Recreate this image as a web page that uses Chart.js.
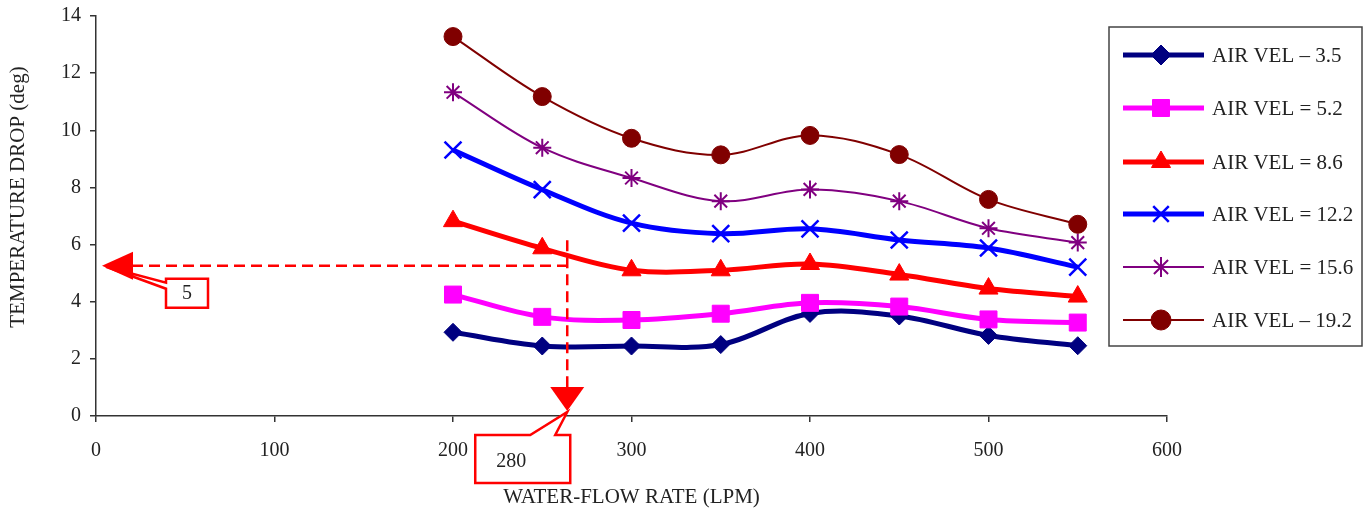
<!DOCTYPE html>
<html>
<head>
<meta charset="utf-8">
<script src="https://cdn.jsdelivr.net/npm/chart.js@4.4.1/dist/chart.umd.min.js"></script>
<style>
  html, body { margin: 0; padding: 0; background: #ffffff; }
  #wrap { width: 1364px; height: 510px; }
</style>
</head>
<body>
<div id="wrap"><canvas id="c" width="1364" height="510"></canvas></div>
<script>
// ---- data ----
const flowRates = [200, 250, 300, 350, 400, 450, 500, 550];
const seriesLabels = ['AIR VEL \u2013 3.5', 'AIR VEL = 5.2', 'AIR VEL = 8.6', 'AIR VEL = 12.2', 'AIR VEL = 15.6', 'AIR VEL \u2013 19.2'];
const drop35  = [2.93, 2.45, 2.45, 2.50, 3.59, 3.50, 2.82, 2.46];
const drop52  = [4.25, 3.47, 3.36, 3.58, 3.96, 3.83, 3.38, 3.27];
const drop86  = [6.82, 5.87, 5.10, 5.10, 5.32, 4.95, 4.46, 4.18];
const drop122 = [9.31, 7.92, 6.75, 6.38, 6.55, 6.16, 5.88, 5.21];
const drop156 = [11.33, 9.39, 8.33, 7.52, 7.93, 7.52, 6.57, 6.07];
const drop192 = [13.28, 11.18, 9.72, 9.14, 9.82, 9.15, 7.58, 6.71];
const xTicks = [0, 100, 200, 300, 400, 500, 600];
const yTicks = [0, 2, 4, 6, 8, 10, 12, 14];
const xTitle = 'WATER-FLOW RATE (LPM)';
const yTitle = 'TEMPERATURE DROP (deg)';
// reading guide (annotation)
const guideFlow = 264;
const guideDrop = 5.26;
const guideFlowLabel = '280';
const guideDropLabel = '5';

const allSeries = [drop35, drop52, drop86, drop122, drop156, drop192];
const styles = [
  { color: '#000080', width: 5, point: 'rectRot', r: 9, pbw: 1 },
  { color: '#FF00FF', width: 5, point: 'rect', r: 12, pbw: 1 },
  { color: '#FF0000', width: 5, point: 'triangle', r: 11, pbw: 1 },
  { color: '#0000FF', width: 5, point: 'crossRot', r: 12, pbw: 2.5 },
  { color: '#800080', width: 2, point: 'star', r: 9, pbw: 2 },
  { color: '#800000', width: 2, point: 'circle', r: 9, pbw: 1 }
];
const FONT = "'Liberation Serif', 'Times New Roman', serif";
const TXT = '#222222';

const datasets = allSeries.map((vals, i) => ({
  label: seriesLabels[i],
  data: flowRates.map((x, j) => ({ x: x, y: vals[j] })),
  borderColor: styles[i].color,
  backgroundColor: styles[i].color,
  borderWidth: styles[i].width,
  pointStyle: styles[i].point,
  pointRadius: styles[i].r,
  pointBorderWidth: styles[i].pbw,
  pointBackgroundColor: styles[i].color,
  pointBorderColor: styles[i].color,
  tension: 0.35,
  fill: false,
  order: allSeries.length - i
}));

const extras = {
  id: 'extras',
  afterDatasetsDraw(chart) {
    const ctx = chart.ctx;
    const xs = chart.scales.x, ys = chart.scales.y;
    const red = '#FF0000';
    const gx = xs.getPixelForValue(guideFlow);
    const gy = ys.getPixelForValue(guideDrop);
    const leftTip = xs.left + 6;
    const downTip = ys.bottom - 5;
    ctx.save();
    ctx.lineWidth = 2.5;
    ctx.strokeStyle = red;
    ctx.fillStyle = '#ffffff';
    ctx.lineJoin = 'miter';
    // "5" box with wedge to left arrow
    const b1x = leftTip + 64, b1y = gy + 13, b1w = 42, b1h = 29;
    ctx.beginPath();
    ctx.moveTo(b1x, b1y);
    ctx.lineTo(b1x + b1w, b1y);
    ctx.lineTo(b1x + b1w, b1y + b1h);
    ctx.lineTo(b1x, b1y + b1h);
    ctx.lineTo(b1x, b1y + 10);
    ctx.lineTo(leftTip + 4, gy + 1);
    ctx.lineTo(b1x, b1y + 4);
    ctx.closePath();
    ctx.fill();
    ctx.stroke();
    // "280" box with wedge to down arrow
    const b2l = gx - 92, b2r = gx + 3, b2t = ys.bottom + 19, b2b = ys.bottom + 67;
    ctx.beginPath();
    ctx.moveTo(b2l, b2t);
    ctx.lineTo(gx - 37, b2t);
    ctx.lineTo(gx, downTip + 1);
    ctx.lineTo(gx - 12, b2t);
    ctx.lineTo(b2r, b2t);
    ctx.lineTo(b2r, b2b);
    ctx.lineTo(b2l, b2b);
    ctx.closePath();
    ctx.fill();
    ctx.stroke();
    // labels
    ctx.fillStyle = TXT;
    ctx.font = '20px ' + FONT;
    ctx.textAlign = 'center';
    ctx.textBaseline = 'middle';
    ctx.fillText(guideDropLabel, b1x + 21, b1y + 15);
    ctx.fillText(guideFlowLabel, gx - 56, b2t + 27);
    // dashed guide lines
    ctx.setLineDash([11, 6]);
    ctx.lineWidth = 2.5;
    ctx.strokeStyle = red;
    ctx.beginPath();
    ctx.moveTo(leftTip + 30, gy);
    ctx.lineTo(gx, gy);
    ctx.stroke();
    ctx.beginPath();
    ctx.moveTo(gx, ys.getPixelForValue(6.15));
    ctx.lineTo(gx, downTip - 22);
    ctx.stroke();
    ctx.setLineDash([]);
    // arrow heads
    ctx.fillStyle = red;
    ctx.beginPath();
    ctx.moveTo(leftTip, gy);
    ctx.lineTo(leftTip + 31, gy - 14);
    ctx.lineTo(leftTip + 31, gy + 14);
    ctx.closePath();
    ctx.fill();
    ctx.beginPath();
    ctx.moveTo(gx, downTip);
    ctx.lineTo(gx - 17, downTip - 24);
    ctx.lineTo(gx + 17, downTip - 24);
    ctx.closePath();
    ctx.fill();
    ctx.restore();
  },
  afterDraw(chart) {
    const ctx = chart.ctx;
    const H = Chart.helpers;
    ctx.save();
    // axis titles
    ctx.fillStyle = TXT;
    ctx.font = '21px ' + FONT;
    ctx.textAlign = 'center';
    ctx.textBaseline = 'middle';
    const ca = chart.chartArea;
    ctx.fillText(xTitle, (ca.left + ca.right) / 2, 497);
    ctx.save();
    ctx.translate(18, 197);
    ctx.rotate(-Math.PI / 2);
    ctx.fillText(yTitle, 0, 0);
    ctx.restore();
    // legend
    const lx = 1109, ly = 27, lw = 253, lh = 319;
    ctx.fillStyle = '#ffffff';
    ctx.fillRect(lx, ly, lw, lh);
    ctx.strokeStyle = '#444444';
    ctx.lineWidth = 1.5;
    ctx.strokeRect(lx, ly, lw, lh);
    const rows = [55, 108, 162, 214, 267, 320];
    const legendR = [10, 12, 11, 11, 10, 10];
    seriesLabels.forEach((lab, i) => {
      const s = styles[i];
      const y = rows[i];
      ctx.strokeStyle = s.color;
      ctx.lineWidth = s.width;
      ctx.beginPath();
      ctx.moveTo(1123, y);
      ctx.lineTo(1204, y);
      ctx.stroke();
      ctx.fillStyle = s.color;
      ctx.strokeStyle = s.color;
      ctx.lineWidth = s.pbw;
      H.drawPoint(ctx, { pointStyle: s.point, radius: legendR[i], rotation: 0, borderWidth: s.pbw }, 1161, y);
      ctx.fillStyle = TXT;
      ctx.font = '21px ' + FONT;
      ctx.textAlign = 'left';
      ctx.textBaseline = 'middle';
      ctx.fillText(lab, 1212, y + 1);
    });
    ctx.restore();
  }
};

new Chart(document.getElementById('c'), {
  type: 'line',
  data: { datasets: datasets },
  options: {
    responsive: false,
    animation: false,
    devicePixelRatio: 1,
    layout: { padding: { top: 16, right: 197, bottom: 0, left: 0 } },
    plugins: { legend: { display: false }, tooltip: { enabled: false }, title: { display: false } },
    scales: {
      x: {
        type: 'linear',
        min: 0, max: 600,
        afterBuildTicks: (s) => { s.ticks = xTicks.map(v => ({ value: v })); },
        afterFit: (s) => { s.height = 94; s.paddingLeft = 0; s.paddingRight = 0; },
        ticks: { color: TXT, font: { family: FONT, size: 20 }, padding: 17, maxRotation: 0 },
        grid: { display: true, drawOnChartArea: false, drawTicks: true, tickLength: 6, color: '#333333', lineWidth: 1.5 },
        border: { display: true, color: '#333333', width: 1.5 }
      },
      y: {
        type: 'linear',
        min: 0, max: 14,
        afterBuildTicks: (s) => { s.ticks = yTicks.map(v => ({ value: v })); },
        afterFit: (s) => { s.width = 96; s.paddingTop = 0; s.paddingBottom = 0; },
        ticks: { color: TXT, font: { family: FONT, size: 20 }, padding: 9 },
        grid: { display: true, drawOnChartArea: false, drawTicks: true, tickLength: 6, color: '#333333', lineWidth: 1.5 },
        border: { display: true, color: '#333333', width: 1.5 }
      }
    }
  },
  plugins: [extras]
});
</script>
</body>
</html>
